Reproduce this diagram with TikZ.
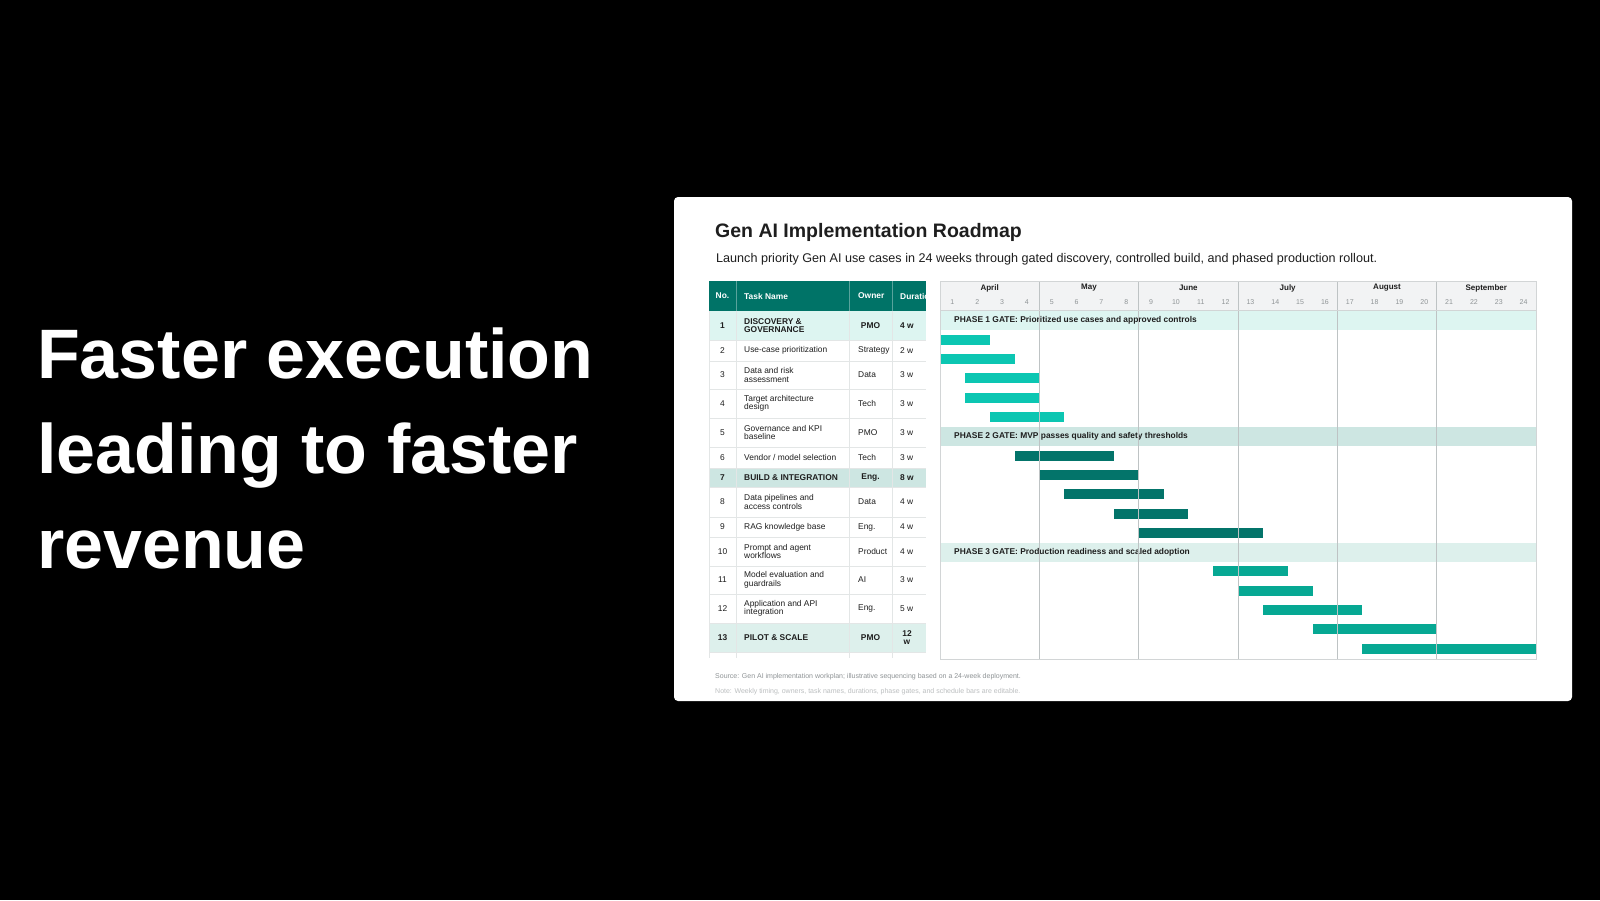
\documentclass[tikz,border=0pt]{standalone}
\usepackage{fontspec}
\setmainfont{Liberation Sans}
\definecolor{hdteal}{HTML}{007367}
\definecolor{mintA}{HTML}{DDF5F1}
\definecolor{mintB}{HTML}{CDE6E2}
\definecolor{mintC}{HTML}{DDF0EC}
\definecolor{barA}{HTML}{0CC6B2}
\definecolor{barB}{HTML}{03746A}
\definecolor{barC}{HTML}{06A893}
\definecolor{gridgray}{HTML}{BEC3C4}
\definecolor{rulegray}{HTML}{E3E6E6}
\definecolor{headgray}{HTML}{F2F3F4}
\definecolor{wkgray}{HTML}{8F9496}
\definecolor{inkgray}{HTML}{1E1E1E}

\begin{document}
\begin{tikzpicture}[x=1pt,y=-1pt,
    headline/.style={anchor=base west,inner sep=0pt,text=white,font=\fontsize{70}{80}\selectfont\bfseries},
    tabtext/.style={inner sep=0pt,align=left,text=inkgray,font=\fontsize{8.4}{8.4}\selectfont},
    tabbold/.style={tabtext,align=center,font=\fontsize{8.4}{8.4}\selectfont\bfseries},
    headtext/.style={inner sep=0pt,text=white,font=\fontsize{8.4}{8.4}\selectfont\bfseries},
    monthlbl/.style={inner sep=0pt,text=inkgray,font=\fontsize{8}{8}\selectfont\bfseries},
    weeklbl/.style={inner sep=0pt,text=wkgray,font=\fontsize{7}{7}\selectfont},
    gatelabel/.style={inner sep=0pt,anchor=west,text=inkgray,font=\fontsize{8.4}{8.4}\selectfont\bfseries},
    footer/.style={inner sep=0pt,anchor=west,font=\fontsize{7}{7}\selectfont}]
    % page and card
    \fill[black] (0,0) rectangle (1600,900);
    \useasboundingbox (0,0) rectangle (1600,900);
    \fill[white,rounded corners=4pt] (674,197) rectangle (1572,701);
    % headline
    \node[headline] (line1) at (37,378) {Faster execution};
    \node[headline] (line2) at (37,473) {leading to faster};
    \node[headline] (line3) at (37,568) {revenue};
    % title
    \node[anchor=base west,inner sep=0pt,text=inkgray,font=\fontsize{19.5}{22}\selectfont\bfseries] (title) at (715,237) {Gen AI Implementation Roadmap};
    \node[anchor=base west,inner sep=0pt,text=inkgray,font=\fontsize{12.6}{15}\selectfont] (subtitle) at (716,262) {Launch priority Gen AI use cases in 24 weeks through gated discovery, controlled build, and phased production rollout.};
    % table header
    \fill[hdteal] (709,281) rectangle (926,311);
    \node[headtext] (hno) at (722.5,296) {No.};
    \node[headtext,anchor=west] (htask) at (744,296) {Task Name};
    \node[headtext,anchor=west] (hown) at (858,296) {Owner};
    \begin{scope}
      \clip (892,281) rectangle (926,311);
      \node[headtext,anchor=west] (hdur) at (900,296) {Duration};
    \end{scope}
    \foreach \cx in {736,849,892}
      \draw[white,opacity=0.35] (\cx,281) -- (\cx,311);
    % section rows
    \foreach \ya/\yb/\bandcol/\rn/\tk/\ow/\du in {311/340/mintA/1/{DISCOVERY \&\\GOVERNANCE}/PMO/4 w,
        468/487/mintB/7/{BUILD \& INTEGRATION}/Eng./8 w,
        623/652/mintC/13/{PILOT \& SCALE}/PMO/{12\\w}}{
      \fill[\bandcol] (709,\ya) rectangle (926,\yb);
      \node[tabbold] (no\rn) at (722.5,{(\ya+\yb)/2}) {\rn};
      \node[tabbold,anchor=west,align=left] (task\rn) at (744,{(\ya+\yb)/2}) {\tk};
      \node[tabbold] (own\rn) at (870.5,{(\ya+\yb)/2}) {\ow};
      \node[tabbold] (dur\rn) at (907,{(\ya+\yb)/2}) {\du};
    }
    % task rows
    \foreach \ya/\yb/\rn/\tk/\ow/\du in {340/361/2/{Use-case prioritization}/Strategy/2 w,
        361/389/3/{Data and risk\\assessment}/Data/3 w,
        389/418/4/{Target architecture\\design}/Tech/3 w,
        418/447/5/{Governance and KPI\\baseline}/PMO/3 w,
        447/468/6/{Vendor / model selection}/Tech/3 w,
        487/517/8/{Data pipelines and\\access controls}/Data/4 w,
        517/537/9/{RAG knowledge base}/Eng./4 w,
        537/566/10/{Prompt and agent\\workflows}/Product/4 w,
        566/594/11/{Model evaluation and\\guardrails}/AI/3 w,
        594/623/12/{Application and API\\integration}/Eng./5 w}{
      \node[tabtext] (no\rn) at (722.5,{(\ya+\yb)/2}) {\rn};
      \node[tabtext,anchor=west] (task\rn) at (744,{(\ya+\yb)/2}) {\tk};
      \node[tabtext,anchor=west] (own\rn) at (858,{(\ya+\yb)/2}) {\ow};
      \node[tabtext,anchor=west] (dur\rn) at (900,{(\ya+\yb)/2}) {\du};
    }
    % table rules
    \foreach \ry in {340,361,389,418,447,468,487,517,537,566,594,623,652}
      \draw[rulegray] (709,\ry) -- (926,\ry);
    \foreach \cx in {709,736,849,892}
      \draw[rulegray] (\cx,311) -- (\cx,658);
    % gantt header
    \fill[headgray] (940,281) rectangle (1536,310);
    \foreach \m/\mon in {0/April,1/May,2/June,3/July,4/August,5/September}
      \node[monthlbl] (m\m) at ({940+(\m+0.5)*99.33},288) {\mon};
    \foreach \w in {1,...,24}
      \node[weeklbl] (w\w) at ({940+(\w-0.5)*24.833},302) {\w};
    % phase gates
    \foreach \r/\bandcol/\lbl in {0/mintA/{PHASE 1 GATE: Prioritized use cases and approved controls},
        6/mintB/{PHASE 2 GATE: MVP passes quality and safety thresholds},
        12/mintC/{PHASE 3 GATE: Production readiness and scaled adoption}}{
      \fill[\bandcol] (940,{311+\r*19.3}) rectangle (1536,{330+\r*19.3});
      \node[gatelabel] (gate\r) at (954,{320.5+\r*19.3}) {\lbl};
    }
    % schedule bars
    \foreach \r/\wa/\wb/\bc in {1/0/2/barA, 2/0/3/barA, 3/1/4/barA, 4/1/4/barA, 5/2/5/barA,
        7/3/7/barB, 8/4/8/barB, 9/5/9/barB, 10/7/10/barB, 11/8/13/barB,
        13/11/14/barC, 14/12/15/barC, 15/13/17/barC, 16/15/20/barC, 17/17/24/barC}
      \fill[\bc] ({940+\wa*24.833},{315.5+\r*19.3}) rectangle ({940+\wb*24.833},{325.5+\r*19.3});
    % month grid
    \foreach \m in {1,...,5}
      \draw[gridgray,line width=0.8pt] ({940+\m*99.33},281) -- ({940+\m*99.33},659);
    \draw[gridgray!70] (940,310) -- (1536,310);
    \draw[gridgray!70,line width=0.8pt] (940,281) rectangle (1536,659);
    % notes
    \node[footer,text=wkgray] (source) at (715,677) {Source: Gen AI implementation workplan; illustrative sequencing based on a 24-week deployment.};
    \node[footer,text=wkgray!60] (remark) at (715,692) {Note: Weekly timing, owners, task names, durations, phase gates, and schedule bars are editable.};
\end{tikzpicture}
\end{document}
